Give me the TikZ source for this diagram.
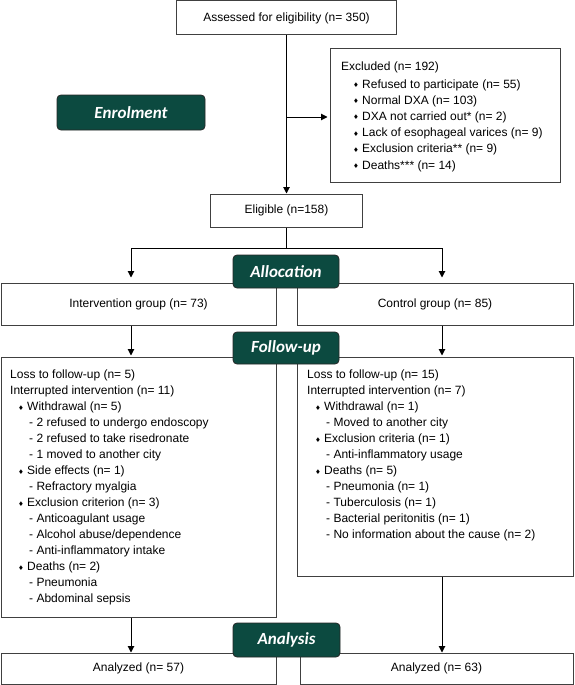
\documentclass[tikz,border=0pt]{standalone}
\usepackage{fontspec}
\setmainfont{Liberation Sans}
\newfontfamily\hdrfont{Carlito}
\newfontfamily\dejavu{DejaVu Sans}
\usetikzlibrary{arrows.meta}
\definecolor{hdrteal}{RGB}{12,74,64}
\newcommand{\bul}{\makebox[9pt][l]{\raisebox{0.6pt}{\dejavu\fontsize{6.5}{6.5}\selectfont ♦}}}
\newcommand{\sub}{\hspace*{19pt}- }
\newcommand{\bl}{\hspace*{8pt}\bul}
\newcommand{\ebl}{\hspace*{12pt}\bul}
\begin{document}
\begin{tikzpicture}[x=1pt,y=-1pt,
  box/.style={draw=black!75, line width=1pt, fill=white, inner sep=0pt,
    font=\fontsize{12}{16}\selectfont},
  txt/.style={inner sep=0pt, align=left, anchor=north west,
    font=\fontsize{12}{16}\selectfont},
  etxt/.style={txt, font=\fontsize{12}{16.2}\selectfont},
  hdr/.style={draw=black!85, line width=0.8pt, fill=hdrteal, rounded corners=4pt,
    text=white, inner sep=0pt, font=\hdrfont\bfseries\itshape\fontsize{17}{19}\selectfont},
  conn/.style={line width=1pt, draw=black},
  arr/.style={conn, -{Triangle[length=6.5pt,width=6.5pt]}}]
\useasboundingbox (0,0) rectangle (574,685);

% boxes
\node[box, minimum width=220pt, minimum height=34pt] (assess) at (286.5,18) {Assessed for eligibility (n= 350)};
\node[box, minimum width=230pt, minimum height=133pt] (excl) at (445,115.5) {};
\node[box, minimum width=152pt, minimum height=33pt] (elig) at (286.5,210.5) {Eligible (n=158)};
\node[box, minimum width=275pt, minimum height=42pt] (interv) at (138.5,304) {Intervention group (n= 73)};
\node[box, minimum width=276pt, minimum height=42pt] (control) at (435,304) {Control group (n= 85)};
\node[box, minimum width=275pt, minimum height=260pt] (fl) at (138.5,487) {};
\node[box, minimum width=276pt, minimum height=219pt] (fr) at (435,466.5) {};
\node[box, minimum width=275pt, minimum height=31pt] (al) at (138.5,668.5) {Analyzed (n= 57)};
\node[box, minimum width=273pt, minimum height=31pt] (ar) at (436.5,668.5) {Analyzed (n= 63)};

% box texts
\node[etxt] (exclt) at (341,61.5) {Excluded (n= 192)\\[1.5pt]
\ebl Refused to participate (n= 55)\\
\ebl Normal DXA (n= 103)\\
\ebl DXA not carried out* (n= 2)\\
\ebl Lack of esophageal varices (n= 9)\\
\ebl Exclusion criteria** (n= 9)\\
\ebl Deaths*** (n= 14)};

\node[txt] (flt) at (10,370) {Loss to follow-up (n= 5)\\
Interrupted intervention (n= 11)\\
\bl Withdrawal (n= 5)\\
\sub 2 refused to undergo endoscopy\\
\sub 2 refused to take risedronate\\
\sub 1 moved to another city\\
\bl Side effects (n= 1)\\
\sub Refractory myalgia\\
\bl Exclusion criterion (n= 3)\\
\sub Anticoagulant usage\\
\sub Alcohol abuse/dependence\\
\sub Anti-inflammatory intake\\
\bl Deaths (n= 2)\\
\sub Pneumonia\\
\sub Abdominal sepsis};

\node[txt] (frt) at (307,370) {Loss to follow-up (n= 15)\\
Interrupted intervention (n= 7)\\
\bl Withdrawal (n= 1)\\
\sub Moved to another city\\
\bl Exclusion criteria (n= 1)\\
\sub Anti-inflammatory usage\\
\bl Deaths (n= 5)\\
\sub Pneumonia (n= 1)\\
\sub Tuberculosis (n= 1)\\
\sub Bacterial peritonitis (n= 1)\\
\sub No information about the cause (n= 2)};

% connectors
\coordinate (sp) at (286.5,117);
\coordinate (jl) at (131,248);
\coordinate (jr) at (442,248);
\draw[arr] (assess.south) -- (elig.north);
\draw[arr, shorten >=2pt] (sp) -- (sp -| excl.west);
\draw[conn] (elig.south) -- (elig.south |- jl);
\draw[conn] (jl) -- (jr);
\draw[arr, shorten >=5pt] (jl) -- (jl |- interv.north);
\draw[arr, shorten >=5pt] (jr) -- (jr |- control.north);
\draw[arr, shorten >=1pt] (jl |- interv.south) -- (jl |- fl.north);
\draw[arr, shorten >=1pt] (jr |- control.south) -- (jr |- fr.north);
\draw[arr] (jl |- fl.south) -- (jl |- al.north);
\draw[arr] (jr |- fr.south) -- (jr |- ar.north);

% phase headers
\node[hdr, minimum width=148pt, minimum height=35pt] (enrol) at (131,112.5) {Enrolment};
\node[hdr, minimum width=106pt, minimum height=33pt] (alloc) at (286,271.5) {Allocation};
\node[hdr, minimum width=106pt, minimum height=32pt] (follow) at (286,348) {Follow-up};
\node[hdr, minimum width=107pt, minimum height=34pt] (analysis) at (286.5,640) {Analysis};
\end{tikzpicture}
\end{document}
